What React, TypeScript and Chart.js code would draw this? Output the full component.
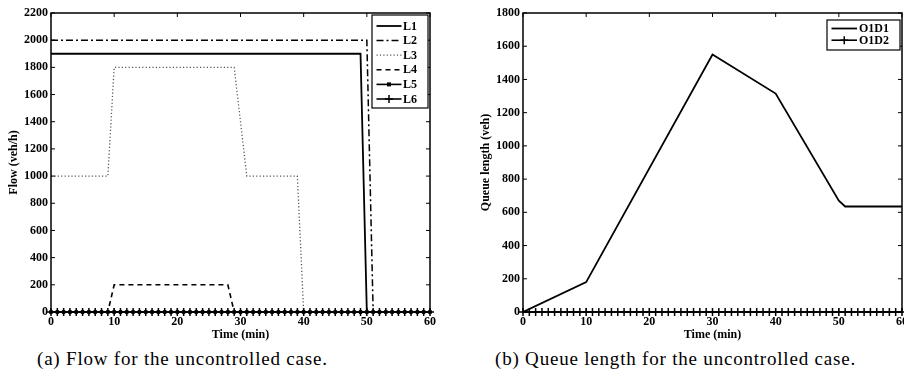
import { useEffect, useRef } from "react";
import { Chart, registerables } from "chart.js";

Chart.register(...registerables);

const SERIF = "'Liberation Serif', 'Times New Roman', serif";

// Shared time axis (minutes)
const timeTicks = [0, 10, 20, 30, 40, 50, 60];
const minuteSteps = [
  0, 1, 2, 3, 4, 5, 6, 7, 8, 9, 10, 11, 12, 13, 14, 15, 16, 17, 18, 19, 20,
  21, 22, 23, 24, 25, 26, 27, 28, 29, 30, 31, 32, 33, 34, 35, 36, 37, 38, 39, 40,
  41, 42, 43, 44, 45, 46, 47, 48, 49, 50, 51, 52, 53, 54, 55, 56, 57, 58, 59, 60,
];

// (a) link flows, veh/h
const flowTicks = [0, 200, 400, 600, 800, 1000, 1200, 1400, 1600, 1800, 2000, 2200];
const l1Time = [0, 49, 50, 60];
const l1Flow = [1900, 1900, 0, 0];
const l2Time = [0, 50, 51, 60];
const l2Flow = [2000, 2000, 0, 0];
const l3Time = [0, 9, 10, 29, 30, 31, 39, 40, 60];
const l3Flow = [1000, 1000, 1800, 1800, 1400, 1000, 1000, 0, 0];
const l4Time = [0, 9, 10, 28, 29, 60];
const l4Flow = [0, 0, 200, 200, 0, 0];
const l5Flow = [
  0, 0, 0, 0, 0, 0, 0, 0, 0, 0, 0, 0, 0, 0, 0, 0, 0, 0, 0, 0, 0,
  0, 0, 0, 0, 0, 0, 0, 0, 0, 0, 0, 0, 0, 0, 0, 0, 0, 0, 0, 0,
  0, 0, 0, 0, 0, 0, 0, 0, 0, 0, 0, 0, 0, 0, 0, 0, 0, 0, 0, 0,
];
const l6Flow = [
  0, 0, 0, 0, 0, 0, 0, 0, 0, 0, 0, 0, 0, 0, 0, 0, 0, 0, 0, 0, 0,
  0, 0, 0, 0, 0, 0, 0, 0, 0, 0, 0, 0, 0, 0, 0, 0, 0, 0, 0, 0,
  0, 0, 0, 0, 0, 0, 0, 0, 0, 0, 0, 0, 0, 0, 0, 0, 0, 0, 0, 0,
];

// (b) queue lengths, veh
const queueTicks = [0, 200, 400, 600, 800, 1000, 1200, 1400, 1600, 1800];
const o1d1Time = [0, 10, 30, 40, 50, 51, 60];
const o1d1Queue = [0, 180, 1550, 1315, 670, 635, 635];
const o1d2Queue = [
  0, 0, 0, 0, 0, 0, 0, 0, 0, 0, 0, 0, 0, 0, 0, 0, 0, 0, 0, 0, 0,
  0, 0, 0, 0, 0, 0, 0, 0, 0, 0, 0, 0, 0, 0, 0, 0, 0, 0, 0, 0,
  0, 0, 0, 0, 0, 0, 0, 0, 0, 0, 0, 0, 0, 0, 0, 0, 0, 0, 0, 0,
];

const pairs = (xs: number[], ys: number[]) => xs.map((x, i) => ({ x, y: ys[i] }));

const tickFont = { family: SERIF, size: 12, weight: "bold" as const };

// Box around the plot area with inward tick marks on all four sides
const frameTicks = {
  id: "frameTicks",
  afterDatasetsDraw(chart: any) {
    const { ctx, chartArea: a, scales } = chart;
    ctx.save();
    ctx.strokeStyle = "#000";
    ctx.lineWidth = 1.5;
    ctx.strokeRect(a.left, a.top, a.right - a.left, a.bottom - a.top);
    ctx.lineWidth = 1;
    const len = 4;
    ctx.beginPath();
    scales.x.ticks.forEach((t: any) => {
      const px = scales.x.getPixelForValue(t.value);
      ctx.moveTo(px, a.bottom);
      ctx.lineTo(px, a.bottom - len);
      ctx.moveTo(px, a.top);
      ctx.lineTo(px, a.top + len);
    });
    scales.y.ticks.forEach((t: any) => {
      const py = scales.y.getPixelForValue(t.value);
      ctx.moveTo(a.left, py);
      ctx.lineTo(a.left + len, py);
      ctx.moveTo(a.right, py);
      ctx.lineTo(a.right - len, py);
    });
    ctx.stroke();
    ctx.restore();
  },
};

function drawMarker(ctx: CanvasRenderingContext2D, style: string, x: number, y: number, r: number) {
  if (style === "rect") {
    ctx.fillRect(x - r, y - r, 2 * r, 2 * r);
  } else if (style === "cross") {
    ctx.beginPath();
    ctx.moveTo(x - r, y);
    ctx.lineTo(x + r, y);
    ctx.moveTo(x, y - r);
    ctx.lineTo(x, y + r);
    ctx.stroke();
  }
}

// Boxed legend in the upper-right corner of the plot area
const boxLegend = {
  id: "boxLegend",
  afterDraw(chart: any, _args: any, opts: any) {
    const { ctx, chartArea: a } = chart;
    const left = a.right - opts.right - opts.width;
    const top = a.top + opts.top;
    ctx.save();
    ctx.fillStyle = "#fff";
    ctx.fillRect(left, top, opts.width, opts.height);
    ctx.strokeStyle = "#000";
    ctx.lineWidth = 1.2;
    ctx.strokeRect(left, top, opts.width, opts.height);
    ctx.font = `bold 12px ${SERIF}`;
    ctx.textBaseline = "middle";
    ctx.textAlign = "left";
    chart.data.datasets.forEach((ds: any, i: number) => {
      const y = top + opts.firstRow + i * opts.rowGap;
      const x0 = left + opts.sampleLeft;
      ctx.strokeStyle = ds.borderColor;
      ctx.fillStyle = ds.borderColor;
      ctx.lineWidth = ds.borderWidth;
      ctx.setLineDash(ds.borderDash || []);
      ctx.beginPath();
      ctx.moveTo(x0, y);
      ctx.lineTo(x0 + opts.sampleLen, y);
      ctx.stroke();
      ctx.setLineDash([]);
      if (ds.pointRadius > 0) {
        ctx.lineWidth = ds.pointBorderWidth || 1.5;
        drawMarker(ctx, ds.pointStyle, x0 + opts.sampleLen / 2, y, ds.pointRadius);
      }
      ctx.fillStyle = "#000";
      ctx.fillText(ds.label, left + opts.textLeft, y + 0.5);
    });
    ctx.restore();
  },
};

function axisOptions(
  ticks: number[],
  max: number,
  yTitle: string,
  yWidth: number,
  yTitlePad: number
) {
  return {
    x: {
      type: "linear" as const,
      min: 0,
      max: 60,
      afterBuildTicks: (s: any) => {
        s.ticks = timeTicks.map((v) => ({ value: v }));
      },
      afterFit: (s: any) => {
        s.height = 33;
      },
      grid: { display: false, drawTicks: false },
      border: { display: false },
      ticks: { color: "#000", padding: 3, maxRotation: 0, font: tickFont, callback: (v: any) => String(v) },
      title: { display: true, text: "Time (min)", color: "#000", font: tickFont, padding: { top: 0, bottom: 3 } },
    },
    y: {
      type: "linear" as const,
      min: 0,
      max,
      afterBuildTicks: (s: any) => {
        s.ticks = ticks.map((v) => ({ value: v }));
      },
      afterFit: (s: any) => {
        s.width = yWidth;
      },
      grid: { display: false, drawTicks: false },
      border: { display: false },
      ticks: { color: "#000", padding: 3, font: tickFont, callback: (v: any) => String(v) },
      title: { display: true, text: yTitle, color: "#000", font: tickFont, padding: { top: yTitlePad, bottom: 0 } },
    },
  };
}

function FlowChart() {
  const ref = useRef<HTMLCanvasElement>(null);
  useEffect(() => {
    const chart = new Chart(ref.current!, {
      type: "line",
      data: {
        datasets: [
          { label: "L1", data: pairs(l1Time, l1Flow), borderColor: "#000", borderWidth: 1.8, pointRadius: 0 },
          { label: "L2", data: pairs(l2Time, l2Flow), borderColor: "#000", borderWidth: 1.5, borderDash: [7, 3, 2, 3], pointRadius: 0 },
          { label: "L3", data: pairs(l3Time, l3Flow), borderColor: "#555", borderWidth: 1.3, borderDash: [1.2, 2.2], pointRadius: 0 },
          { label: "L4", data: pairs(l4Time, l4Flow), borderColor: "#000", borderWidth: 1.6, borderDash: [5, 4], pointRadius: 0 },
          {
            label: "L5", data: pairs(minuteSteps, l5Flow), borderColor: "#000", borderWidth: 1.6,
            pointStyle: "rect", pointRadius: 2, pointBackgroundColor: "#000", pointBorderColor: "#000", pointBorderWidth: 1, clip: false,
          },
          {
            label: "L6", data: pairs(minuteSteps, l6Flow), borderColor: "#000", borderWidth: 1.6,
            pointStyle: "cross", pointRadius: 4, pointBorderColor: "#000", pointBorderWidth: 1.5, clip: false,
          },
        ] as any,
      },
      options: {
        animation: false,
        responsive: false,
        layout: { padding: { top: 13, right: 15, left: 0, bottom: 0 } },
        plugins: {
          legend: { display: false },
          tooltip: { enabled: false },
          boxLegend: { right: 2, top: 2, width: 56, height: 93, firstRow: 11, rowGap: 14.6, sampleLeft: 4.5, sampleLen: 25, textLeft: 31 },
        } as any,
        scales: axisOptions(flowTicks, 2200, "Flow (veh/h)", 51, 7) as any,
      },
      plugins: [frameTicks, boxLegend],
    });
    return () => chart.destroy();
  }, []);
  return <canvas ref={ref} width={445} height={345} style={{ position: "absolute", left: 0, top: 0 }} />;
}

function QueueChart() {
  const ref = useRef<HTMLCanvasElement>(null);
  useEffect(() => {
    const chart = new Chart(ref.current!, {
      type: "line",
      data: {
        datasets: [
          { label: "O1D1", data: pairs(o1d1Time, o1d1Queue), borderColor: "#000", borderWidth: 1.8, pointRadius: 0 },
          {
            label: "O1D2", data: pairs(minuteSteps, o1d2Queue), borderColor: "#000", borderWidth: 1.6,
            pointStyle: "cross", pointRadius: 4, pointBorderColor: "#000", pointBorderWidth: 1.5, clip: false,
          },
        ] as any,
      },
      options: {
        animation: false,
        responsive: false,
        layout: { padding: { top: 13, right: 20, left: 0, bottom: 0 } },
        plugins: {
          legend: { display: false },
          tooltip: { enabled: false },
          boxLegend: { right: 2, top: 7, width: 73, height: 30, firstRow: 8.5, rowGap: 11.7, sampleLeft: 4.5, sampleLen: 25.5, textLeft: 32 },
        } as any,
        scales: axisOptions(queueTicks, 1800, "Queue length (veh)", 71, 27) as any,
      },
      plugins: [frameTicks, boxLegend],
    });
    return () => chart.destroy();
  }, []);
  return <canvas ref={ref} width={470} height={345} style={{ position: "absolute", left: 452, top: 0 }} />;
}

const captionStyle = {
  position: "absolute" as const,
  top: 347,
  fontFamily: SERIF,
  fontSize: 19,
  letterSpacing: "0.8px",
  whiteSpace: "nowrap" as const,
  color: "#000",
  lineHeight: "24px",
};

export default function App() {
  return (
    <div
      style={{
        position: "absolute",
        left: 0,
        top: 0,
        width: 904,
        height: 378,
        overflow: "hidden",
        background: "#fff",
      }}
    >
      <FlowChart />
      <QueueChart />
      <div style={{ ...captionStyle, left: 37 }}>(a) Flow for the uncontrolled case.</div>
      <div style={{ ...captionStyle, left: 495 }}>(b) Queue length for the uncontrolled case.</div>
    </div>
  );
}
